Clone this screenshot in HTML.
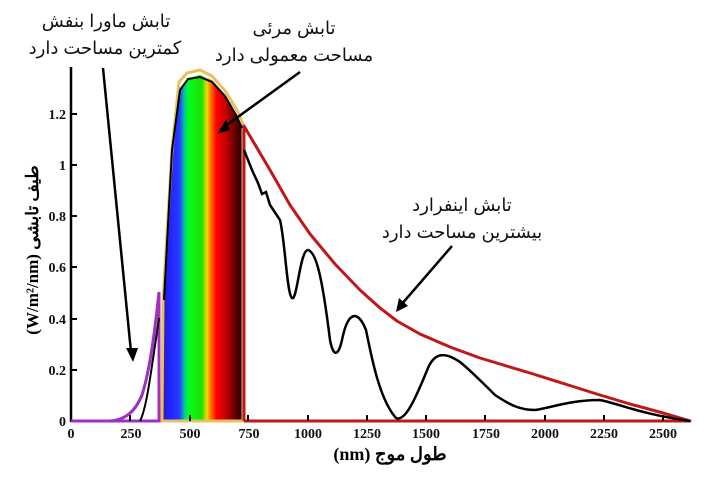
<!DOCTYPE html>
<html><head><meta charset="utf-8"><style>
body{margin:0;background:#fff;}
svg text{font-family:"Liberation Serif",serif;}
.fa{font-family:"Liberation Sans","Noto Sans CJK SC","DejaVu Sans",sans-serif;font-size:18px;fill:#111;}
.tk{font-weight:bold;font-size:14px;fill:#111;}
</style></head><body>
<svg width="708" height="480" viewBox="0 0 708 480" xmlns="http://www.w3.org/2000/svg">
<defs>
<linearGradient id="rb" x1="0" x2="1" y1="0" y2="0">
<stop offset="0" stop-color="#3a1a90"/>
<stop offset="0.08" stop-color="#2020ff"/>
<stop offset="0.22" stop-color="#2a3cff"/>
<stop offset="0.28" stop-color="#00c8a0"/>
<stop offset="0.33" stop-color="#00ff20"/>
<stop offset="0.50" stop-color="#20e000"/>
<stop offset="0.56" stop-color="#e8e000"/>
<stop offset="0.62" stop-color="#ff6000"/>
<stop offset="0.68" stop-color="#ff0000"/>
<stop offset="0.80" stop-color="#c00000"/>
<stop offset="1" stop-color="#200000"/>
</linearGradient>
</defs>
<line x1="71" y1="67" x2="71" y2="422" stroke="#000" stroke-width="2.5"/>
<line x1="71" y1="421" x2="690" y2="421" stroke="#000" stroke-width="2"/>
<path d="M162,421 L163,300 L172,150 L180,88 L188,78 L200,75 L212,80 L225,95 L236,115 L242,127 L242,421 Z" fill="url(#rb)"/>
<path d="M162,421 L163,300 L172,150 L179,82 L187,73 L200,70 L212,76 L226,92 L238,112 L243,124 L243,421 Z" fill="none" stroke="#e8c060" stroke-width="3"/>
<path d="M164,300 L172,150 L180,90 L188,79 L200,77 L212,82 L225,96 L236,115 L242,128" fill="none" stroke="#000" stroke-width="2"/>
<path d="M71,421 L110,421 C125,420 135,412 142,395 C150,370 155,330 159,292 L159,421 Z" fill="none" stroke="#a030c0" stroke-width="3"/>
<path d="M140,421 C146,410 150,380 159,318" fill="none" stroke="#000" stroke-width="2"/>
<polyline points="244,421 244,126 257,148 270,170 290,205 310,234 335,264 360,290 380,308 397,321 420,334 450,347 480,358 530,373 565,384 600,395 630,404 663,413 690,421 244,421" fill="none" stroke="#c01818" stroke-width="3" stroke-linejoin="round"/>
<path d="M244,150 L248,160 L252,170 L258,183 L262,194 L266,192 L270,205 L280,220 C285,240 287,295 292,298 C297,302 300,250 308,250 C316,252 322,275 330,340 C333,356 338,358 342,340 C348,310 358,310 366,330 C372,360 380,400 396,418 C405,422 415,400 428,368 C435,352 445,352 460,362 C470,370 480,380 495,395 C510,405 520,410 535,410 C550,408 570,400 600,400 C620,404 640,414 690,421" fill="none" stroke="#000" stroke-width="2.5"/>
<g stroke="#000" stroke-width="2">
<line x1="130" y1="421" x2="130" y2="415"/><line x1="190" y1="421" x2="190" y2="415"/><line x1="248" y1="421" x2="248" y2="415"/><line x1="308" y1="421" x2="308" y2="415"/><line x1="367" y1="421" x2="367" y2="415"/><line x1="426" y1="421" x2="426" y2="415"/><line x1="485" y1="421" x2="485" y2="415"/><line x1="545" y1="421" x2="545" y2="415"/><line x1="604" y1="421" x2="604" y2="415"/><line x1="663" y1="421" x2="663" y2="415"/>
<line x1="71" y1="114" x2="77" y2="114"/><line x1="71" y1="165" x2="77" y2="165"/><line x1="71" y1="216" x2="77" y2="216"/><line x1="71" y1="267" x2="77" y2="267"/><line x1="71" y1="319" x2="77" y2="319"/><line x1="71" y1="370" x2="77" y2="370"/>
</g>
<g class="tk" text-anchor="middle">
<text x="71" y="438">0</text><text x="131" y="438">250</text><text x="190" y="438">500</text><text x="249" y="438">750</text><text x="308" y="438">1000</text><text x="367" y="438">1250</text><text x="426" y="438">1500</text><text x="486" y="438">1750</text><text x="545" y="438">2000</text><text x="604" y="438">2250</text><text x="663" y="438">2500</text>
</g>
<g class="tk" text-anchor="end">
<text x="66" y="119">1.2</text><text x="66" y="170">1</text><text x="66" y="221">0.8</text><text x="66" y="272">0.6</text><text x="66" y="324">0.4</text><text x="66" y="375">0.2</text><text x="66" y="426">0</text>
</g>
<text x="390" y="460" text-anchor="middle" style="font-family:'Liberation Serif','Noto Sans CJK SC',serif;font-size:18px;font-weight:bold;" direction="rtl">طول موج (nm)</text>
<text transform="translate(38,250) rotate(-90)" text-anchor="middle" style="font-family:'Liberation Serif','Noto Sans CJK SC',serif;font-size:17px;font-weight:bold;" direction="rtl">طیف تابشی (W/m²/nm)</text>
<text class="fa" x="106" y="27" text-anchor="middle" direction="rtl">تابش ماورا بنفش</text>
<text class="fa" x="105" y="54" text-anchor="middle" direction="rtl">کمترین مساحت دارد</text>
<text class="fa" x="294" y="34" text-anchor="middle" direction="rtl">تابش مرئی</text>
<text class="fa" x="294" y="61" text-anchor="middle" direction="rtl">مساحت معمولی دارد</text>
<text class="fa" x="462" y="211" text-anchor="middle" direction="rtl">تابش اینفرارد</text>
<text class="fa" x="462" y="238" text-anchor="middle" direction="rtl">بیشترین مساحت دارد</text>
<g stroke="#000" stroke-width="2.5" fill="none">
<line x1="103" y1="68" x2="131" y2="352"/>
<line x1="300" y1="72" x2="224" y2="127"/>
<line x1="452" y1="246" x2="401" y2="305"/>
</g>
<g fill="#000">
<path d="M126,348 L138,348 L133,362 Z"/>
<path d="M217,134 L226,120 L230,130 Z"/>
<path d="M396,312 L399,298 L408,306 Z"/>
</g>
</svg>
</body></html>
